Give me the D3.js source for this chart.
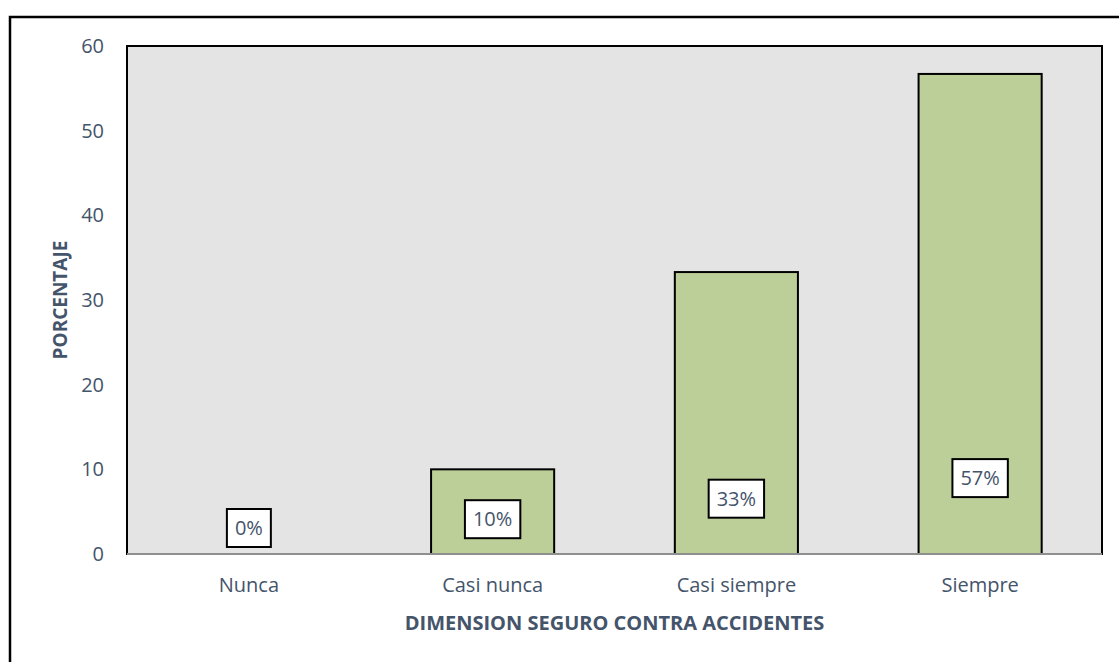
<!DOCTYPE html>
<html>
<head>
<meta charset="utf-8">
<script src="https://cdn.jsdelivr.net/npm/d3@7"></script>
<style>
  body { margin: 0; background: #fff; }
  svg text { font-family: "Open Sans", "Noto Sans", sans-serif; }
</style>
</head>
<body>
<div id="chart"></div>
<script>
var categories = ["Nunca", "Casi nunca", "Casi siempre", "Siempre"];
var values = [0, 10, 33.3, 56.7];
var valueLabels = ["0%", "10%", "33%", "57%"];
var yTicks = [0, 10, 20, 30, 40, 50, 60];

var width = 1119, height = 662;
var margin = { top: 46, right: 17, bottom: 108, left: 127 };

var svg = d3.select("#chart")
    .append("svg")
    .attr("width", width)
    .attr("height", height);

// outer chart border (runs off the right/bottom edge like the original)
svg.append("rect")
    .attr("x", 10)
    .attr("y", 17)
    .attr("width", width + 20)
    .attr("height", height + 20)
    .attr("fill", "#fff")
    .attr("stroke", "#000")
    .attr("stroke-width", 2.5);

var x = d3.scaleBand()
    .domain(categories)
    .range([margin.left, width - margin.right])
    .paddingInner(0.495)
    .paddingOuter(0.2475);

var y = d3.scaleLinear()
    .domain([0, 60])
    .range([height - margin.bottom, margin.top]);

// plot area
svg.append("rect")
    .attr("x", margin.left)
    .attr("y", margin.top)
    .attr("width", width - margin.right - margin.left)
    .attr("height", y(0) - margin.top)
    .attr("fill", "#e4e4e4")
    .attr("stroke", "#000")
    .attr("stroke-width", 2);

svg.selectAll(".bar")
    .data(values)
    .enter()
    .append("rect")
    .attr("class", "bar")
    .attr("x", function (d, i) { return x(categories[i]); })
    .attr("y", function (d) { return y(d); })
    .attr("width", x.bandwidth())
    .attr("height", function (d) { return y(0) - y(d); })
    .attr("fill", "#bdcf98")
    .attr("stroke", "#000")
    .attr("stroke-width", 2)
    .style("display", function (d) { return d > 0 ? null : "none"; });

// x axis line
svg.append("line")
    .attr("x1", margin.left)
    .attr("x2", width - margin.right)
    .attr("y1", y(0))
    .attr("y2", y(0))
    .attr("stroke", "#bfbfbf")
    .attr("stroke-width", 1.5);

var yAxis = svg.append("g")
    .attr("transform", "translate(" + margin.left + ",0)")
    .call(d3.axisLeft(y).tickValues(yTicks).tickSize(0).tickPadding(23));
yAxis.select(".domain").remove();
yAxis.selectAll("text")
    .attr("fill", "#44546a")
    .style("font-size", "20px");

var xAxis = svg.append("g")
    .attr("transform", "translate(0," + y(0) + ")")
    .call(d3.axisBottom(x).tickSize(0).tickPadding(24));
xAxis.select(".domain").remove();
xAxis.selectAll("text")
    .attr("fill", "#44546a")
    .style("font-size", "20px");

// data labels in boxes near the base of each bar
var labels = svg.selectAll(".lbl")
    .data(values)
    .enter()
    .append("g")
    .attr("class", "lbl")
    .attr("transform", function (d, i) {
        var cy = y(0) - 26 - d * 0.88;
        return "translate(" + (x(categories[i]) + x.bandwidth() / 2) + "," + cy + ")";
    });

labels.append("text")
    .attr("text-anchor", "middle")
    .attr("dy", "0.35em")
    .attr("fill", "#44546a")
    .style("font-size", "20px")
    .text(function (d, i) { return valueLabels[i]; });

labels.each(function () {
    var g = d3.select(this);
    var bb = g.select("text").node().getBBox();
    g.insert("rect", "text")
        .attr("x", -bb.width / 2 - 8)
        .attr("y", -19)
        .attr("width", bb.width + 16)
        .attr("height", 38)
        .attr("fill", "#fff")
        .attr("stroke", "#000")
        .attr("stroke-width", 2);
});

svg.append("text")
    .attr("x", (margin.left + width - margin.right) / 2)
    .attr("y", 623)
    .attr("dy", "0.35em")
    .attr("text-anchor", "middle")
    .attr("fill", "#44546a")
    .style("font-size", "20px")
    .style("font-weight", "bold")
    .text("DIMENSION SEGURO CONTRA ACCIDENTES");

svg.append("text")
    .attr("transform", "translate(60," + (margin.top + y(0)) / 2 + ") rotate(-90)")
    .attr("dy", "0.35em")
    .attr("text-anchor", "middle")
    .attr("fill", "#44546a")
    .style("font-size", "19px")
    .style("font-weight", "bold")
    .text("PORCENTAJE");
</script>
</body>
</html>
